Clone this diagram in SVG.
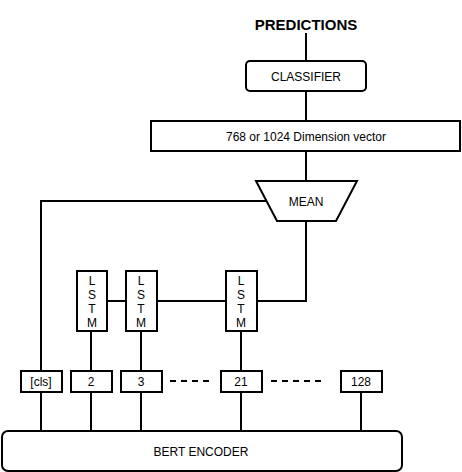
<svg xmlns="http://www.w3.org/2000/svg" width="462" height="472" viewBox="0 0 462 472">
<style>
.box{fill:#fff;stroke:#000;stroke-width:2}
.ln{fill:none;stroke:#000;stroke-width:2}
.dash{fill:none;stroke:#000;stroke-width:2;stroke-dasharray:6 5}
text{font-family:"Liberation Sans",Arial,sans-serif;font-size:12px;fill:#000;text-anchor:middle;dominant-baseline:central}
.title{font-size:15px;font-weight:bold}
</style>
<rect width="462" height="472" fill="#fff"/>
<g id="connectors">
<path class="ln" d="M306,33 V61"/>
<path class="ln" d="M306,91 V121"/>
<path class="ln" d="M306,151 V181"/>
<path class="ln" d="M267,201 H41 V371"/>
<path class="ln" d="M306,221 V301 H257"/>
<path class="ln" d="M107,301 H131"/>
<path class="ln" d="M157,301 H231"/>
<path class="ln" d="M91,331 V371"/>
<path class="ln" d="M141,331 V371"/>
<path class="ln" d="M241,331 V371"/>
<path class="ln" d="M41,392 V431"/>
<path class="ln" d="M91,392 V431"/>
<path class="ln" d="M141,392 V431"/>
<path class="ln" d="M241,392 V431"/>
<path class="ln" d="M361,392 V431"/>
<path class="dash" d="M170,381 H209"/>
<path class="dash" d="M271,381 H321"/>
</g>
<g id="predictions"><text class="title" x="306" y="24">PREDICTIONS</text></g>
<g id="classifier"><rect class="box" x="246" y="61" width="120" height="30" rx="4"/><text x="306" y="76.5">CLASSIFIER</text></g>
<g id="vector"><rect class="box" x="151" y="121" width="309" height="30"/><text x="306" y="136.5">768 or 1024 Dimension vector</text></g>
<g id="mean"><polygon class="box" points="256,181 357,181 336,221 277,221"/><text x="306" y="201.5">MEAN</text></g>
<g id="lstm1"><rect class="box" x="77" y="271" width="30" height="60"/><text x="92" y="280.5">L</text><text x="92" y="294.5">S</text><text x="92" y="308.5">T</text><text x="92" y="322.5">M</text></g>
<g id="lstm2"><rect class="box" x="126" y="271" width="31" height="60"/><text x="141" y="280.5">L</text><text x="141" y="294.5">S</text><text x="141" y="308.5">T</text><text x="141" y="322.5">M</text></g>
<g id="lstm3"><rect class="box" x="226" y="271" width="31" height="60"/><text x="241" y="280.5">L</text><text x="241" y="294.5">S</text><text x="241" y="308.5">T</text><text x="241" y="322.5">M</text></g>
<g id="tok-cls"><rect class="box" x="21" y="371" width="41" height="21"/><text x="41" y="382">[cls]</text></g>
<g id="tok-2"><rect class="box" x="71" y="371" width="41" height="21"/><text x="91" y="382">2</text></g>
<g id="tok-3"><rect class="box" x="121" y="371" width="41" height="21"/><text x="141" y="382">3</text></g>
<g id="tok-21"><rect class="box" x="221" y="371" width="41" height="21"/><text x="241" y="382">21</text></g>
<g id="tok-128"><rect class="box" x="341" y="371" width="41" height="21"/><text x="361" y="382">128</text></g>
<g id="bert"><rect class="box" x="2" y="431" width="400" height="40" rx="6"/><text x="201" y="451.5">BERT ENCODER</text></g>
</svg>
